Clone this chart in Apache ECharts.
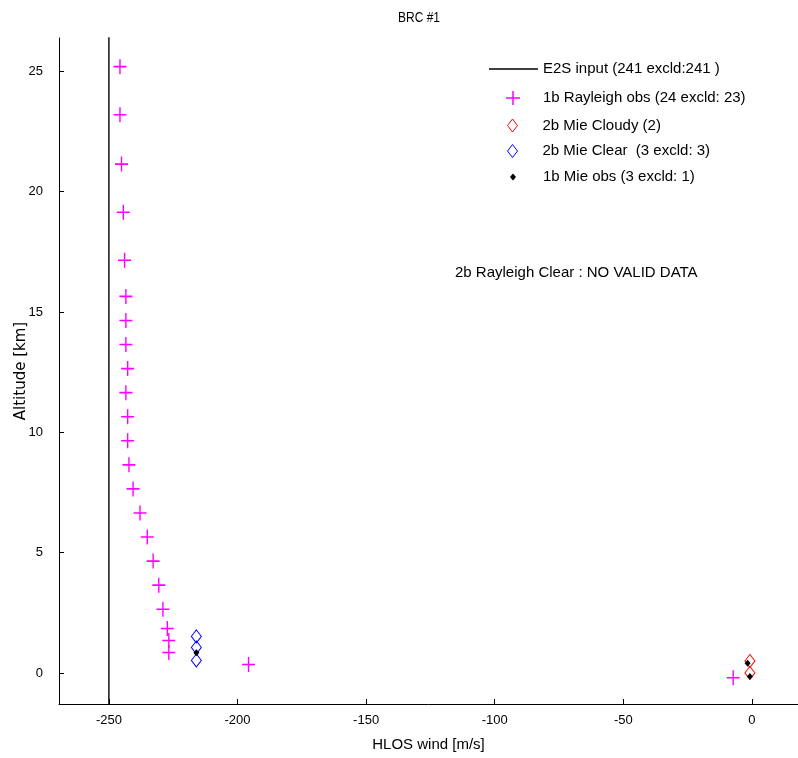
<!DOCTYPE html>
<html>
<head>
<meta charset="utf-8">
<script src="https://cdn.jsdelivr.net/npm/echarts@6/dist/echarts.min.js"></script>
<style>
  html, body { margin: 0; padding: 0; background: #fff; }
  #chart { width: 798px; height: 758px; }
</style>
</head>
<body>
<div id="chart"></div>
<script>
// ---- data ----
const xTicks = [-250, -200, -150, -100, -50, 0];
const yTicks = [0, 5, 10, 15, 20, 25];

const e2sWind = [-250, -250];
const e2sAlt = [-2, 28];

const rayleighWind = [-245.7, -245.7, -245.1, -244.4, -243.9, -243.4, -243.4, -243.4, -242.7, -243.4, -242.7, -242.7, -242.2, -240.6, -237.9, -235.1, -232.8, -230.6, -229.0, -227.3, -226.7, -226.7, -195.7, -7.3];
const rayleighAlt = [25.2, 23.2, 21.15, 19.15, 17.15, 15.65, 14.65, 13.65, 12.65, 11.65, 10.65, 9.65, 8.65, 7.65, 6.65, 5.65, 4.65, 3.65, 2.65, 1.85, 1.35, 0.85, 0.35, -0.2];

const mieCloudyWind = [-0.8, -0.8];
const mieCloudyAlt = [0.5, 0.0];

const mieClearWind = [-216.0, -216.0, -216.0];
const mieClearAlt = [1.52, 1.06, 0.52];

const mieObsWind = [-216.0, -1.7, -0.8];
const mieObsAlt = [0.84, 0.4, -0.15];

const names = [
  'E2S input (241 excld:241 )',
  '1b Rayleigh obs (24 excld: 23)',
  '2b Mie Cloudy (2)',
  '2b Mie Clear  (3 excld: 3)',
  '1b Mie obs (3 excld: 1)'
];
const titleText = 'BRC #1';
const noteText = '2b Rayleigh Clear : NO VALID DATA';

// ---- helpers ----
function pairs(xs, ys) { return xs.map((x, i) => [x, ys[i]]); }
const FONT = "'Liberation Sans', Arial, sans-serif";
const PLUS_THIN = 'path://M6.25,0H7.75V6.25H14V7.75H7.75V14H6.25V7.75H0V6.25H6.25Z';
const DIAMOND = 'path://M5,0L10,6.5L5,13L0,6.5Z';
const DOT = 'path://M3,0L6,3.5L3,7L0,3.5Z';
const LINE_ICON = 'path://M0,0H49V1.4H0Z';

function legendAt(name, left, centerY, itemWidth, itemHeight, icon, extraItemStyle) {
  const h = Math.max(itemHeight, 15);
  const item = icon ? { name: name, icon: icon } : { name: name };
  const lg = {
    data: [item],
    left: left,
    top: centerY - h / 2,
    orient: 'vertical',
    padding: 0,
    itemWidth: itemWidth,
    itemHeight: itemHeight,
    symbolKeepAspect: true,
    selectedMode: false,
    textStyle: { fontSize: 15, color: '#000', fontFamily: FONT }
  };
  if (extraItemStyle) lg.itemStyle = extraItemStyle;
  return lg;
}

const chart = echarts.init(document.getElementById('chart'), null, { renderer: 'canvas' });
chart.setOption({
  backgroundColor: '#fff',
  animation: false,
  grid: { left: 59, right: 0, top: 38, bottom: 54, containLabel: false, outerBoundsMode: 'none' },
  xAxis: {
    type: 'value', min: -269.4, max: 17.9,
    axisLine: { show: true, onZero: false, lineStyle: { color: '#000', width: 1 } },
    axisTick: { show: true, inside: true, length: 5, customValues: xTicks, lineStyle: { color: '#000' } },
    axisLabel: { customValues: xTicks, fontSize: 13, color: '#000', margin: 10, fontFamily: FONT },
    splitLine: { show: false },
    name: 'HLOS wind [m/s]', nameLocation: 'middle', nameGap: 33, nameMoveOverlap: false,
    nameTextStyle: { fontSize: 15, color: '#000', fontFamily: FONT }
  },
  yAxis: {
    type: 'value', min: -1.29, max: 26.39,
    axisLine: { show: true, onZero: false, lineStyle: { color: '#000', width: 1 } },
    axisTick: { show: true, inside: true, length: 5, customValues: yTicks, lineStyle: { color: '#000' } },
    axisLabel: { customValues: yTicks, fontSize: 13, color: '#000', margin: 16, fontFamily: FONT },
    splitLine: { show: false },
    name: 'Altitude [km]', nameLocation: 'middle', nameGap: 30, nameRotate: 90, nameMoveOverlap: false,
    nameTextStyle: { fontSize: 15, color: '#000', fontFamily: "'DejaVu Sans', sans-serif" }
  },
  legend: [
    legendAt(names[0], 489, 69, 49, 14, LINE_ICON),
    legendAt(names[1], 506, 98, 50, 14),
    legendAt(names[2], 507, 125.5, 50, 13, null, { borderWidth: 1 }),
    legendAt(names[3], 507, 151, 50, 13, null, { borderWidth: 1 }),
    legendAt(names[4], 510, 177, 50, 7)
  ],
  graphic: [
    { type: 'text', x: 419, y: 18, scaleX: 0.8, style: { text: titleText, align: 'center', verticalAlign: 'middle', font: "15px 'Liberation Sans', Arial, sans-serif", fill: '#000' } },
    { type: 'text', x: 455, y: 273, style: { text: noteText, align: 'left', verticalAlign: 'middle', font: "15px 'Liberation Sans', Arial, sans-serif", fill: '#000' } }
  ],
  series: [
    {
      name: names[0], type: 'line', data: pairs(e2sWind, e2sAlt),
      symbol: 'none', showSymbol: false, clip: true,
      lineStyle: { color: '#000', width: 1.4 }, itemStyle: { color: '#000' },
      z: 2
    },
    {
      name: names[1], type: 'scatter', data: pairs(rayleighWind, rayleighAlt),
      symbol: PLUS_THIN, symbolSize: [13, 15],
      itemStyle: { color: '#ff00ff', opacity: 1 },
      z: 3
    },
    {
      name: names[2], type: 'scatter', data: pairs(mieCloudyWind, mieCloudyAlt),
      symbol: DIAMOND, symbolSize: [10, 13],
      itemStyle: { color: 'rgba(255,255,255,0)', borderColor: '#ff0000', borderWidth: 1, opacity: 1 },
      z: 4
    },
    {
      name: names[3], type: 'scatter', data: pairs(mieClearWind, mieClearAlt),
      symbol: DIAMOND, symbolSize: [10, 13],
      itemStyle: { color: 'rgba(255,255,255,0)', borderColor: '#0000ff', borderWidth: 1, opacity: 1 },
      z: 5
    },
    {
      name: names[4], type: 'scatter', data: pairs(mieObsWind, mieObsAlt),
      symbol: DOT, symbolSize: [6, 7],
      itemStyle: { color: '#000', opacity: 1 },
      z: 6
    }
  ]
});
</script>
</body>
</html>
